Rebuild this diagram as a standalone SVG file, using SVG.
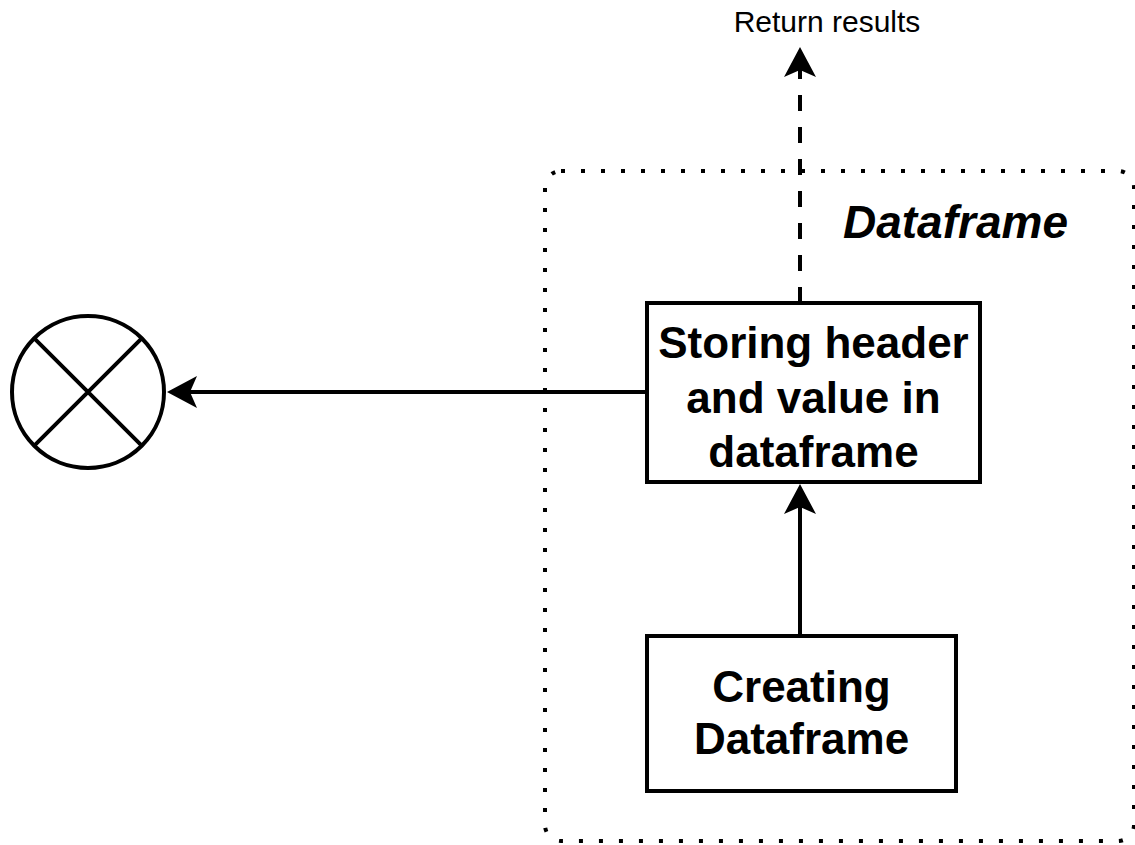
<svg xmlns="http://www.w3.org/2000/svg" width="1135" height="845" viewBox="0 0 1135 845">
<style>
.box{fill:#fff;stroke:#000;stroke-width:4}
.lbl{font-family:"Liberation Sans",Arial,sans-serif;font-weight:bold;font-size:44px;fill:#000;text-anchor:middle}
.edge{fill:none;stroke:#000;stroke-width:4}
</style>
<defs>
<marker id="arr" markerUnits="userSpaceOnUse" markerWidth="32" markerHeight="34" viewBox="-1 -1 32 34" refX="7" refY="16" orient="auto">
<path d="M30,16 L0,0 L7,16 L0,32 Z" fill="#000"/>
</marker>
</defs>
<rect id="container" x="545" y="171" width="589" height="670" rx="16" fill="none" stroke="#000" stroke-width="4" stroke-dasharray="4 16"/>
<text id="container-label" x="843" y="238" font-family="Liberation Sans,Arial,sans-serif" font-weight="bold" font-style="italic" font-size="46" fill="#000">Dataframe</text>
<g id="connectors">
<path class="edge" d="M800,303 L800,70" stroke-dasharray="16 16" marker-end="url(#arr)"/>
<path class="edge" d="M647,392 L190,392" marker-end="url(#arr)"/>
<path class="edge" d="M800,636 L800,507" marker-end="url(#arr)"/>
</g>
<g id="return-label">
<text x="827" y="32" font-family="Liberation Sans,Arial,sans-serif" font-size="30" fill="#000" text-anchor="middle">Return results</text>
</g>
<g id="storing">
<rect class="box" x="647" y="303" width="333" height="179"/>
<text class="lbl" x="813.5" y="358">Storing header</text>
<text class="lbl" x="813.5" y="412.5">and value in</text>
<text class="lbl" x="813.5" y="467">dataframe</text>
</g>
<g id="creating">
<rect class="box" x="647" y="636" width="309" height="155"/>
<text class="lbl" x="801.5" y="702">Creating</text>
<text class="lbl" x="801.5" y="754">Dataframe</text>
</g>
<g id="sum">
<circle cx="88" cy="392" r="76" fill="#fff" stroke="#000" stroke-width="4"/>
<path d="M34.3,338.3 L141.7,445.7 M141.7,338.3 L34.3,445.7" stroke="#000" stroke-width="4"/>
</g>
</svg>
